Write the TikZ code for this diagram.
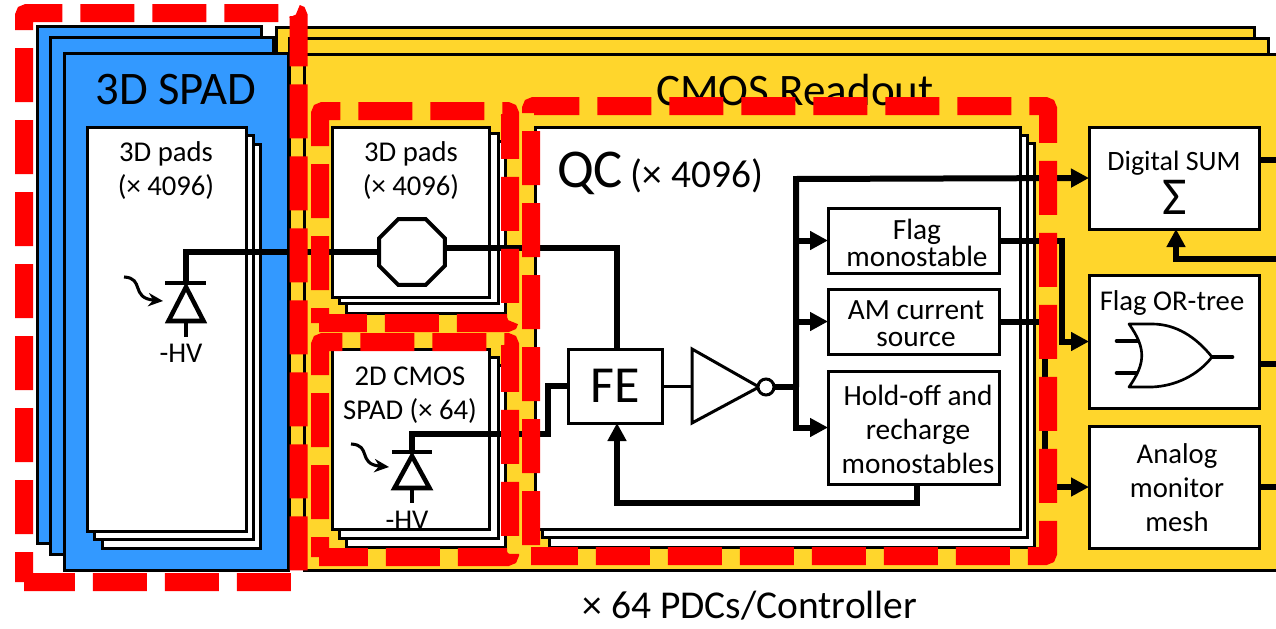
\documentclass[tikz,border=0pt]{standalone}
\usepackage{fontspec}
\setmainfont{Carlito}
\usetikzlibrary{arrows.meta,shapes.geometric}
\definecolor{spadblue}{HTML}{3399FF}
\definecolor{cmosyellow}{HTML}{FFD62C}
\newcommand{\bx}[7]{\node[#2,minimum width={(#5-#3)*0.75pt},minimum height={(#6-#4)*0.75pt}] (#1) at ({(#3+#5)/2},{(#4+#6)/2}) {#7};}
\newcommand{\fnt}[2]{\fontsize{#1}{#2}\selectfont}
\tikzset{
  blk/.style={draw=black,line width=2.25pt,inner sep=0pt,outer sep=0pt,rectangle},
  bluebox/.style={blk,fill=spadblue},
  yellowbox/.style={blk,fill=cmosyellow},
  whitebox/.style={blk,fill=white,align=center},
  lab/.style={inner sep=0pt,outer sep=0pt,align=center,text=black},
  small/.style={font=\fnt{21.5}{25.5}},
  wide/.style={font=\fnt{22}{25.5}},
  tight/.style={font=\fnt{22}{20.4}},
  wire/.style={draw=black,line width=4.5pt},
  diode/.style={draw=black,line width=3.4pt,line join=miter},
  thinwire/.style={draw=black,line width=2.25pt},
  arrowwire/.style={wire,-{Triangle[length=13.5pt,width=13.5pt]}},
  gate/.style={draw=black,line width=2.25pt,fill=white,line join=miter},
  orgate/.style={draw=black,line width=2pt,fill=white,line join=round},
  photon/.style={draw=black,line width=2.3pt,-{Stealth[length=11pt,width=10pt]}},
  reddash/.style={draw=red,line width=13.5pt,rounded corners=2.25pt,dash pattern=on 40.5pt off 13.5pt},
}
\begin{document}
\begin{tikzpicture}[x=0.75pt,y=-0.75pt]
\useasboundingbox (0,0) rectangle (1276,628);
\clip (0,0) rectangle (1276,628);
\fill[white] (0,0) rectangle (1276,628);
% yellow stack
\bx{ya}{yellowbox}{276}{27}{1254}{543}{}
\bx{yb}{yellowbox}{289}{38}{1268}{554}{}
\bx{yc}{yellowbox}{304}{54}{1290}{570}{}
% blue stack
\bx{ba}{bluebox}{37}{26}{261}{543}{}
\bx{bb}{bluebox}{50}{37}{273}{554}{}
\bx{bc}{bluebox}{64}{53}{288}{570}{}
\node[lab,font=\fnt{35}{40}] (spadt) at (176,90) {3D SPAD};
\node[lab,font=\fnt{33.8}{38}] (cmost) at (795,90) {CMOS Readout};
% 3D pads in SPAD
\bx{sc}{whitebox}{102}{144}{260}{548}{}
\bx{sb}{whitebox}{94}{135}{253}{539}{}
\bx{sa}{whitebox}{87}{127}{246}{531}{}
\node[lab,small] (sat) at (166,171) {3D pads\\(× 4096)};
% 3D pads readout
\bx{pc}{whitebox}{346}{141}{505}{313}{}
\bx{pb}{whitebox}{339}{133}{498}{303}{}
\bx{pa}{whitebox}{332}{127}{489}{297}{}
\node[lab,small] (pat) at (411,171) {3D pads\\(× 4096)};
% 2D CMOS
\bx{mc}{whitebox}{346}{365}{505}{547}{}
\bx{mb}{whitebox}{339}{357}{498}{538}{}
\bx{ma}{whitebox}{332}{349}{489}{529}{}
\node[lab,small] (mat) at (410,395) {2D CMOS\\SPAD (× 64)};
% QC
\bx{qc}{whitebox}{549}{143}{1034}{547}{}
\bx{qb}{whitebox}{542}{135}{1027}{537}{}
\bx{qa}{whitebox}{535}{127}{1020}{529}{}
\node[lab,anchor=base west] (qct) at (557,187) {\fnt{41}{46}QC\hspace{6pt}\fnt{29.5}{34}(× 4096)};
% right boxes
\bx{sum}{whitebox}{1089}{127}{1259}{229}{}
\node[lab,font=\fnt{21}{25}] (sumt) at (1174,163) {Digital SUM};
\node[lab,font=\fnt{40}{44}] (sigma) at (1175,197) {Σ};
\bx{ort}{whitebox}{1089}{275}{1259}{408}{}
\node[lab,small] (ortt) at (1172,303) {Flag OR-tree};
\bx{ana}{whitebox}{1089}{426}{1259}{548}{}
\node[lab,small] (anat) at (1177,488) {Analog\\monitor\\mesh};
% middle boxes
\bx{fe}{whitebox,font=\fnt{39}{42}}{568}{349}{662}{423}{FE}
\bx{flag}{whitebox}{828}{208}{999}{273}{}
\node[lab,tight] (flagt) at (917,243) {Flag\\monostable};
\bx{am}{whitebox}{828}{289}{999}{354}{}
\node[lab,tight] (amt) at (916,324) {AM current\\source};
\bx{hold}{whitebox}{828}{371}{999}{484}{}
\node[lab,wide] (holdt) at (918,429) {Hold-off and\\recharge\\monostables};
% inverter
\coordinate (invw) at (692,386);
\draw[gate] (692,349) -- (692,423) -- (759,387) -- cycle;
\node[draw=black,line width=2.25pt,fill=white,circle,inner sep=0pt,outer sep=0pt,minimum size=12pt] (bub) at (766,387) {};
% octagon
\node[draw=black,line width=3pt,fill=white,regular polygon,regular polygon sides=8,inner sep=0pt,outer sep=0pt,minimum size=53.5pt] (oct) at (412,252) {};
% junction coordinates
\coordinate (d1top) at (186,252);
\coordinate (d1bar) at (186,283);
\coordinate (d1apex) at (186,287);
\coordinate (d1base) at (186,321);
\coordinate (d1low) at (186,337);
\coordinate (d1barl) at (165,283);
\coordinate (d1barr) at (206,283);
\coordinate (d1tl) at (168.5,321);
\coordinate (d1tr) at (203.5,321);
\coordinate (d2top) at (412,434);
\coordinate (d2bar) at (412,452);
\coordinate (d2apex) at (412,456);
\coordinate (d2base) at (412,488);
\coordinate (d2low) at (412,503);
\coordinate (d2barl) at (392,452);
\coordinate (d2barr) at (432,452);
\coordinate (d2tl) at (394.5,488);
\coordinate (d2tr) at (429.5,488);
\coordinate (octr) at (445,248);
\coordinate (febend) at (617,248);
\coordinate (fetop) at (617,349);
\coordinate (febot) at (617,423);
\coordinate (bus) at (796,387);
\coordinate (bustop) at (796,179);
\coordinate (busbot) at (796,427.5);
\coordinate (k1) at (548,434);
\coordinate (k2) at (548,386);
\coordinate (holdout) at (917,484);
\coordinate (fbl) at (617,503);
\coordinate (fbr) at (917,503);
\coordinate (flagbend) at (1062,240.5);
\coordinate (ambend) at (1045,321.5);
\coordinate (sumin) at (1176,229);
\coordinate (sumfb) at (1176,259);
\coordinate (sumfbr) at (1276,259);
\coordinate (sumout) at (1276,160);
\coordinate (sumoutl) at (1259,160);
\coordinate (oroutl) at (1259,364);
\coordinate (orout) at (1276,364);
\coordinate (anaout) at (1276,487);
% wires
\draw[wire,line join=miter] (d1bar) -- (d1top) -- (oct.west);
\draw[diode] (d1base) -- (d1low);
\draw[diode] (d1barl) -- (d1barr);
\draw[diode] (d1apex) -- (d1tr) -- (d1tl) -- cycle;
\draw[wire,line join=miter] (octr) -- (febend) -- (fetop);
\draw[wire,line join=miter] (d2bar) -- (d2top) -- (k1) -- (k2) -- (fe.west);
\draw[diode] (d2base) -- (d2low);
\draw[diode] (d2barl) -- (d2barr);
\draw[diode] (d2apex) -- (d2tr) -- (d2tl) -- cycle;
\draw[thinwire] (fe.east) -- (invw);
\draw[wire] (bub.east) -- (bus);
\draw[arrowwire] (bus |- flag.west) -- (flag.west);
\draw[arrowwire] (bus |- am.west) -- (am.west);
\draw[arrowwire,line join=miter] (bus) -- (busbot) -- (hold.west);
\draw[arrowwire,line join=miter] (bus) -- (bustop) -- (sum.west);
\draw[arrowwire,line join=miter] (holdout) -- (fbr) -- (fbl) -- (febot);
\draw[arrowwire,line join=miter] (flag.east) -- (flagbend) -- (flagbend |- ort.west) -- (ort.west);
\draw[arrowwire,line join=miter] (am.east) -- (ambend) -- (ambend |- ana.west) -- (ana.west);
\draw[arrowwire,line join=miter] (sumfbr) -- (sumfb) -- (sumin);
\draw[wire] (sumoutl) -- (sumout);
\draw[wire] (oroutl) -- (orout);
\draw[wire] (ana.east) -- (anaout);
% -HV labels and photons
\node[lab,small] (hv1) at (181,353) {-HV};
\node[lab,small] (hv2) at (407,520) {-HV};
\coordinate (ph1a) at (124,277);
\coordinate (ph1b) at (163,301);
\coordinate (ph2a) at (351,444);
\coordinate (ph2b) at (389,467);
\draw[photon] (ph1a) .. controls (145,278) and (130,298) .. (ph1b);
\draw[photon] (ph2a) .. controls (372,445) and (357,464) .. (ph2b);
% OR gate
\coordinate (ori1) at (1117,341);
\coordinate (ori1e) at (1139,341);
\coordinate (ori2) at (1117,373);
\coordinate (ori2e) at (1139,373);
\coordinate (orta) at (1129,324);
\coordinate (ortb) at (1129,387);
\coordinate (ortip) at (1212,357);
\coordinate (oro) at (1232,357);
\draw[wire,line width=3.5pt,line cap=round] (ori1) -- (ori1e);
\draw[wire,line width=3.5pt,line cap=round] (ori2) -- (ori2e);
\draw[wire,line width=3.5pt,line cap=round] (ortip) -- (oro);
\draw[orgate] (orta) .. controls (1146,348) and (1146,363) .. (ortb) -- (1152,387) .. controls (1176,386) and (1198,375) .. (ortip) .. controls (1196,337) and (1176,324) .. (1152,324) -- cycle;
% caption
\node[lab,font=\fnt{29.6}{35}] (cap) at (750,606) {× 64 PDCs/Controller};
% red dashed outlines
\draw[reddash,dash phase=18pt] (24,582) -- (24,13) -- (298.5,13) -- (298.5,582) -- (24,582);
\draw[reddash,dash phase=29.25pt] (320,323) -- (320,111) -- (510,111) -- (510,323) -- (319,323);
\draw[reddash,dash phase=25.5pt] (320,557) -- (320,342) -- (510,342) -- (510,557) -- (319,557);
\draw[reddash,dash phase=45.75pt] (531,556) -- (531,106) -- (1048,106) -- (1048,556) -- (531,556);
\end{tikzpicture}
\end{document}
